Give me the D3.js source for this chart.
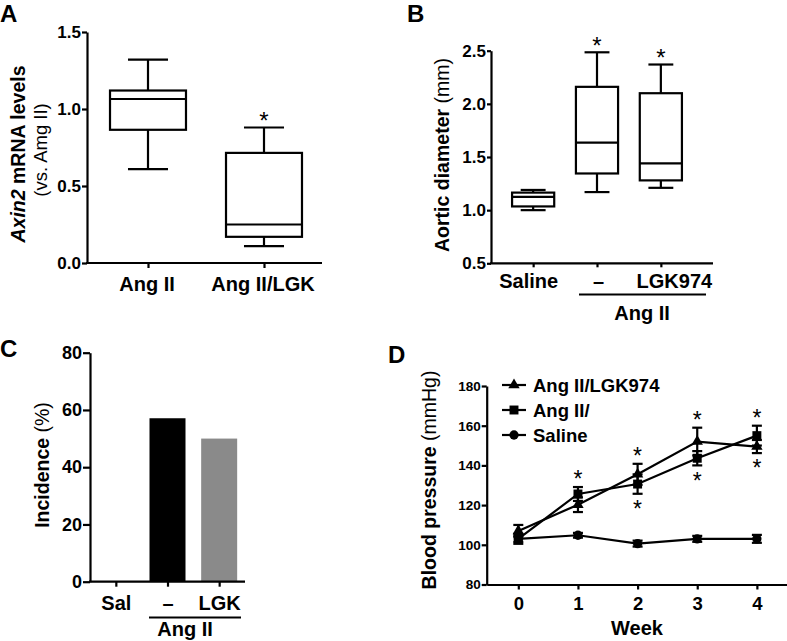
<!DOCTYPE html>
<html><head><meta charset="utf-8">
<script src="https://cdn.jsdelivr.net/npm/d3@7"></script>
<style>body{margin:0;background:#fff} svg{display:block}</style>
</head><body><svg id="c" width="787" height="641"></svg>
<script>
// ---------- DATA ----------
// Panel A: Axin2 mRNA levels (box plot)
const aCategories = ["Ang II", "Ang II/LGK"];
const aWhiskerLow  = [0.61, 0.11];
const aQ1          = [0.865, 0.17];
const aMedian      = [1.065, 0.25];
const aQ3          = [1.12, 0.715];
const aWhiskerHigh = [1.32, 0.88];
const aSignificant = [false, true];
const aTicks = [0, 0.5, 1.0, 1.5];

// Panel B: Aortic diameter (box plot)
const bCategories  = ["Saline", "–", "LGK974"];
const bWhiskerLow  = [1.0, 1.17, 1.21];
const bQ1          = [1.035, 1.345, 1.28];
const bMedian      = [1.125, 1.635, 1.44];
const bQ3          = [1.165, 2.16, 2.10];
const bWhiskerHigh = [1.19, 2.485, 2.37];
const bSignificant = [false, true, true];
const bTicks = [0.5, 1.0, 1.5, 2.0, 2.5];
const bGroupLabel = "Ang II";

// Panel C: Incidence (bars)
const cCategories = ["Sal", "–", "LGK"];
const cIncidence  = [0, 57.1, 50];
const cColors     = ["#000000", "#000000", "#8a8a8a"];
const cTicks = [0, 20, 40, 60, 80];
const cGroupLabel = "Ang II";

// Panel D: Blood pressure over weeks
const dWeeks = [0, 1, 2, 3, 4];
const dSeriesNames = ["Ang II/LGK974", "Ang II/", "Saline"];
const dLgkMean = [107, 120.2, 135.5, 152, 149.5];
const dLgkSem  = [3, 3.7, 5.3, 7, 3.3];
const dAngMean = [103, 125.6, 130.6, 143.6, 155];
const dAngSem  = [2.5, 3.5, 4.9, 3.6, 5];
const dSalMean = [103, 104.8, 100.6, 103, 103];
const dSalSem  = [1.5, 1.2, 1.5, 1.5, 2];
const dStarsAbove = [1, 2, 3, 4];
const dStarsBelow = [2, 3, 4];
const dTicksY = [80, 100, 120, 140, 160, 180];

// ---------- DRAWING ----------
const FONT = "'Liberation Sans', Arial, Helvetica, sans-serif";
const svg = d3.select("#c");
const LW = 2.2;

function styleAxis(g, fs) {
  g.attr("font-family", FONT).attr("font-size", fs).attr("font-weight", "bold");
  g.selectAll("path.domain").attr("stroke", "#000").attr("stroke-width", LW);
  g.selectAll(".tick line").attr("stroke", "#000").attr("stroke-width", LW);
  g.selectAll(".tick text").attr("fill", "#000");
}

function panelLetter(t, x, y) {
  svg.append("text").attr("x", x).attr("y", y).text(t)
    .attr("font-family", FONT).attr("font-size", 24).attr("font-weight", "bold");
}

function star(g, x, cy, fs) {
  g.append("text").attr("x", x).attr("y", cy + fs * 0.58).attr("text-anchor", "middle")
    .attr("font-family", FONT).attr("font-size", fs).text("*");
}

function yTitle(g, x, y, parts, fs) {
  const t = g.append("text").attr("transform", `translate(${x},${y}) rotate(-90)`)
    .attr("text-anchor", "middle").attr("font-family", FONT).attr("font-size", fs);
  parts.forEach(p => {
    t.append("tspan").text(p.t).attr("font-weight", p.b ? "bold" : "normal")
      .attr("font-style", p.i ? "italic" : "normal");
  });
  return t;
}

function boxes(g, x, y, cats, lo, q1, med, q3, hi, boxW, capW) {
  cats.forEach((c, i) => {
    const cx = x(c);
    const gg = g.append("g").attr("stroke", "#000").attr("stroke-width", LW).attr("fill", "none");
    gg.append("line").attr("x1", cx).attr("x2", cx).attr("y1", y(lo[i])).attr("y2", y(q1[i]));
    gg.append("line").attr("x1", cx).attr("x2", cx).attr("y1", y(q3[i])).attr("y2", y(hi[i]));
    gg.append("line").attr("x1", cx - capW / 2).attr("x2", cx + capW / 2).attr("y1", y(lo[i])).attr("y2", y(lo[i]));
    gg.append("line").attr("x1", cx - capW / 2).attr("x2", cx + capW / 2).attr("y1", y(hi[i])).attr("y2", y(hi[i]));
    gg.append("rect").attr("x", cx - boxW / 2).attr("y", y(q3[i])).attr("width", boxW)
      .attr("height", y(q1[i]) - y(q3[i])).attr("fill", "#fff");
    gg.append("line").attr("x1", cx - boxW / 2).attr("x2", cx + boxW / 2).attr("y1", y(med[i])).attr("y2", y(med[i]));
  });
}

// ===== Panel A =====
(function () {
  const L = 87, R = 322, T = 32, B = 263;
  const g = svg.append("g");
  const y = d3.scaleLinear().domain([0, 1.5]).range([B, T]);
  const x = d3.scalePoint().domain(aCategories).range([L + 3, R]).padding(0.5);
  const step = x.step();
  g.append("line").attr("x1", L - 1).attr("x2", R).attr("y1", B).attr("y2", B).attr("stroke", "#000").attr("stroke-width", LW);
  const xa = g.append("g").attr("transform", `translate(0,${B})`)
    .call(d3.axisBottom(x).tickSize(5).tickSizeOuter(0).tickPadding(9));
  xa.select(".domain").remove();
  styleAxis(xa, 20);
  xa.selectAll(".tick text").attr("dx", -1.5);
  const ya = g.append("g").attr("transform", `translate(${L},0)`)
    .call(d3.axisLeft(y).tickValues(aTicks).tickFormat(d3.format(".1f")).tickSize(5).tickSizeOuter(0).tickPadding(1));
  styleAxis(ya, 17);
  boxes(g, x, y, aCategories, aWhiskerLow, aQ1, aMedian, aQ3, aWhiskerHigh, step * 0.655, step * 0.345);
  aCategories.forEach((c, i) => { if (aSignificant[i]) star(g, x(c), y(aWhiskerHigh[i]) - 12, 24); });
  yTitle(g, 25, 154, [{ t: "Axin2", b: 1, i: 1 }, { t: " mRNA levels", b: 1 }], 19.5);
  yTitle(g, 47, 150, [{ t: "(vs. Amg II)" }], 18.5);
  panelLetter("A", 0, 22);
})();

// ===== Panel B =====
(function () {
  const L = 491, R = 713, T = 50.7, B = 263.3;
  const g = svg.append("g");
  const y = d3.scaleLinear().domain([0.5, 2.5]).range([B, T]);
  const x = d3.scalePoint().domain(bCategories).range([L, 703]).padding(0.66);
  const step = x.step();
  g.append("line").attr("x1", L - 1).attr("x2", R).attr("y1", B).attr("y2", B).attr("stroke", "#000").attr("stroke-width", LW);
  const xa = g.append("g").attr("transform", `translate(0,${B})`)
    .call(d3.axisBottom(x).tickSize(4).tickSizeOuter(0).tickPadding(7));
  xa.select(".domain").remove();
  styleAxis(xa, 20);
  const labelShift = [-5, 1, 13];
  xa.selectAll(".tick text").attr("dx", (d, i) => labelShift[i]);
  const ya = g.append("g").attr("transform", `translate(${L},0)`)
    .call(d3.axisLeft(y).tickValues(bTicks).tickFormat(d3.format(".1f")).tickSize(4).tickSizeOuter(0).tickPadding(1));
  styleAxis(ya, 17);
  boxes(g, x, y, bCategories, bWhiskerLow, bQ1, bMedian, bQ3, bWhiskerHigh, step * 0.66, step * 0.39);
  bCategories.forEach((c, i) => { if (bSignificant[i]) star(g, x(c), y(bWhiskerHigh[i]) - 12, 24); });
  g.append("line").attr("x1", 579).attr("x2", 706).attr("y1", 294.5).attr("y2", 294.5).attr("stroke", "#000").attr("stroke-width", LW);
  g.append("text").attr("x", 642).attr("y", 320).attr("text-anchor", "middle").attr("font-family", FONT)
    .attr("font-size", 20).attr("font-weight", "bold").text(bGroupLabel);
  yTitle(g, 449, 155, [{ t: "Aortic diameter ", b: 1 }, { t: "(mm)" }], 19.5);
  panelLetter("B", 407, 22);
})();

// ===== Panel C =====
(function () {
  const L = 90, R = 245, T = 352.7, B = 581.7;
  const g = svg.append("g");
  const y = d3.scaleLinear().domain([0, 80]).range([B, T]);
  const x = d3.scalePoint().domain(cCategories).range([L, R]).padding(0.5);
  const barW = 36;
  g.selectAll("rect.bar").data(cCategories).enter().append("rect").attr("class", "bar")
    .attr("x", d => x(d) - barW / 2).attr("width", barW)
    .attr("y", (d, i) => y(cIncidence[i])).attr("height", (d, i) => B - y(cIncidence[i]))
    .attr("fill", (d, i) => cColors[i]);
  g.append("line").attr("x1", L - 1).attr("x2", R).attr("y1", B).attr("y2", B).attr("stroke", "#000").attr("stroke-width", LW);
  const xa = g.append("g").attr("transform", `translate(0,${B})`)
    .call(d3.axisBottom(x).tickSize(5).tickSizeOuter(0).tickPadding(9));
  xa.select(".domain").remove();
  styleAxis(xa, 20);
  const ya = g.append("g").attr("transform", `translate(${L},0)`)
    .call(d3.axisLeft(y).tickValues(cTicks).tickSize(7).tickSizeOuter(0).tickPadding(1));
  styleAxis(ya, 18);
  g.append("line").attr("x1", 149).attr("x2", 241).attr("y1", 617.5).attr("y2", 617.5).attr("stroke", "#000").attr("stroke-width", LW);
  g.append("text").attr("x", 185).attr("y", 636).attr("text-anchor", "middle").attr("font-family", FONT)
    .attr("font-size", 20).attr("font-weight", "bold").text(cGroupLabel);
  yTitle(g, 49, 465, [{ t: "Incidence ", b: 1 }, { t: "(%)" }], 19.5);
  panelLetter("C", 0, 357);
})();

// ===== Panel D =====
(function () {
  const L = 486.7, R = 786.7, T = 386, B = 584.5;
  const g = svg.append("g");
  const x = d3.scaleLinear().domain([-0.53, 4.5]).range([L, R]);
  const y = d3.scaleLinear().domain([80, 180]).range([B, T]);
  const xa = g.append("g").attr("transform", `translate(0,${B})`)
    .call(d3.axisBottom(x).tickValues(dWeeks).tickFormat(d3.format("d")).tickSize(5).tickSizeOuter(0).tickPadding(7));
  styleAxis(xa, 18.5);
  const ya = g.append("g").attr("transform", `translate(${L},0)`)
    .call(d3.axisLeft(y).tickValues(dTicksY).tickSize(5).tickSizeOuter(0).tickPadding(1));
  styleAxis(ya, 13.5);

  const series = [
    { name: dSeriesNames[0], mean: dLgkMean, sem: dLgkSem, sym: d3.symbolTriangle, size: 56 },
    { name: dSeriesNames[1], mean: dAngMean, sem: dAngSem, sym: d3.symbolSquare, size: 80 },
    { name: dSeriesNames[2], mean: dSalMean, sem: dSalSem, sym: d3.symbolCircle, size: 68 }
  ];
  const line = d3.line().x((d, i) => x(dWeeks[i])).y(d => y(d));
  [...series].reverse().forEach(s => {
    g.append("path").attr("d", line(s.mean)).attr("fill", "none").attr("stroke", "#000").attr("stroke-width", LW);
  });
  series.forEach(s => {
    dWeeks.forEach((w, i) => {
      const cx = x(w), y1 = y(s.mean[i] + s.sem[i]), y2 = y(s.mean[i] - s.sem[i]);
      const eg = g.append("g").attr("stroke", "#000").attr("stroke-width", LW);
      eg.append("line").attr("x1", cx).attr("x2", cx).attr("y1", y1).attr("y2", y2);
      eg.append("line").attr("x1", cx - 5).attr("x2", cx + 5).attr("y1", y1).attr("y2", y1);
      eg.append("line").attr("x1", cx - 5).attr("x2", cx + 5).attr("y1", y2).attr("y2", y2);
    });
  });
  series.forEach(s => {
    g.selectAll(null).data(s.mean).enter().append("path")
      .attr("transform", (d, i) => `translate(${x(dWeeks[i])},${y(d)})`)
      .attr("d", d3.symbol().type(s.sym).size(s.size)).attr("fill", "#000");
  });
  dStarsAbove.forEach(w => {
    const i = dWeeks.indexOf(w);
    const top = Math.min(y(dLgkMean[i] + dLgkSem[i]), y(dAngMean[i] + dAngSem[i]));
    star(g, x(w), top - 13, 23);
  });
  dStarsBelow.forEach(w => {
    const i = dWeeks.indexOf(w);
    const bot = Math.max(y(dLgkMean[i] - dLgkSem[i]), y(dAngMean[i] - dAngSem[i]));
    star(g, x(w), bot + 10, 23);
  });
  series.forEach((s, k) => {
    const ly = 385 + k * 25;
    g.append("line").attr("x1", 502).attr("x2", 526).attr("y1", ly).attr("y2", ly).attr("stroke", "#000").attr("stroke-width", LW);
    g.append("path").attr("transform", `translate(514,${ly})`).attr("d", d3.symbol().type(s.sym).size(s.size)).attr("fill", "#000");
    g.append("text").attr("x", 533).attr("y", ly).attr("dy", "0.36em").attr("font-family", FONT)
      .attr("font-size", 18.5).attr("font-weight", "bold").text(s.name);
  });
  g.append("text").attr("x", 637).attr("y", 635).attr("text-anchor", "middle").attr("font-family", FONT)
    .attr("font-size", 20).attr("font-weight", "bold").text("Week");
  yTitle(g, 436, 480, [{ t: "Blood pressure ", b: 1 }, { t: "(mmHg)" }], 19.5);
  panelLetter("D", 388, 363);
})();
</script>
</body></html>
